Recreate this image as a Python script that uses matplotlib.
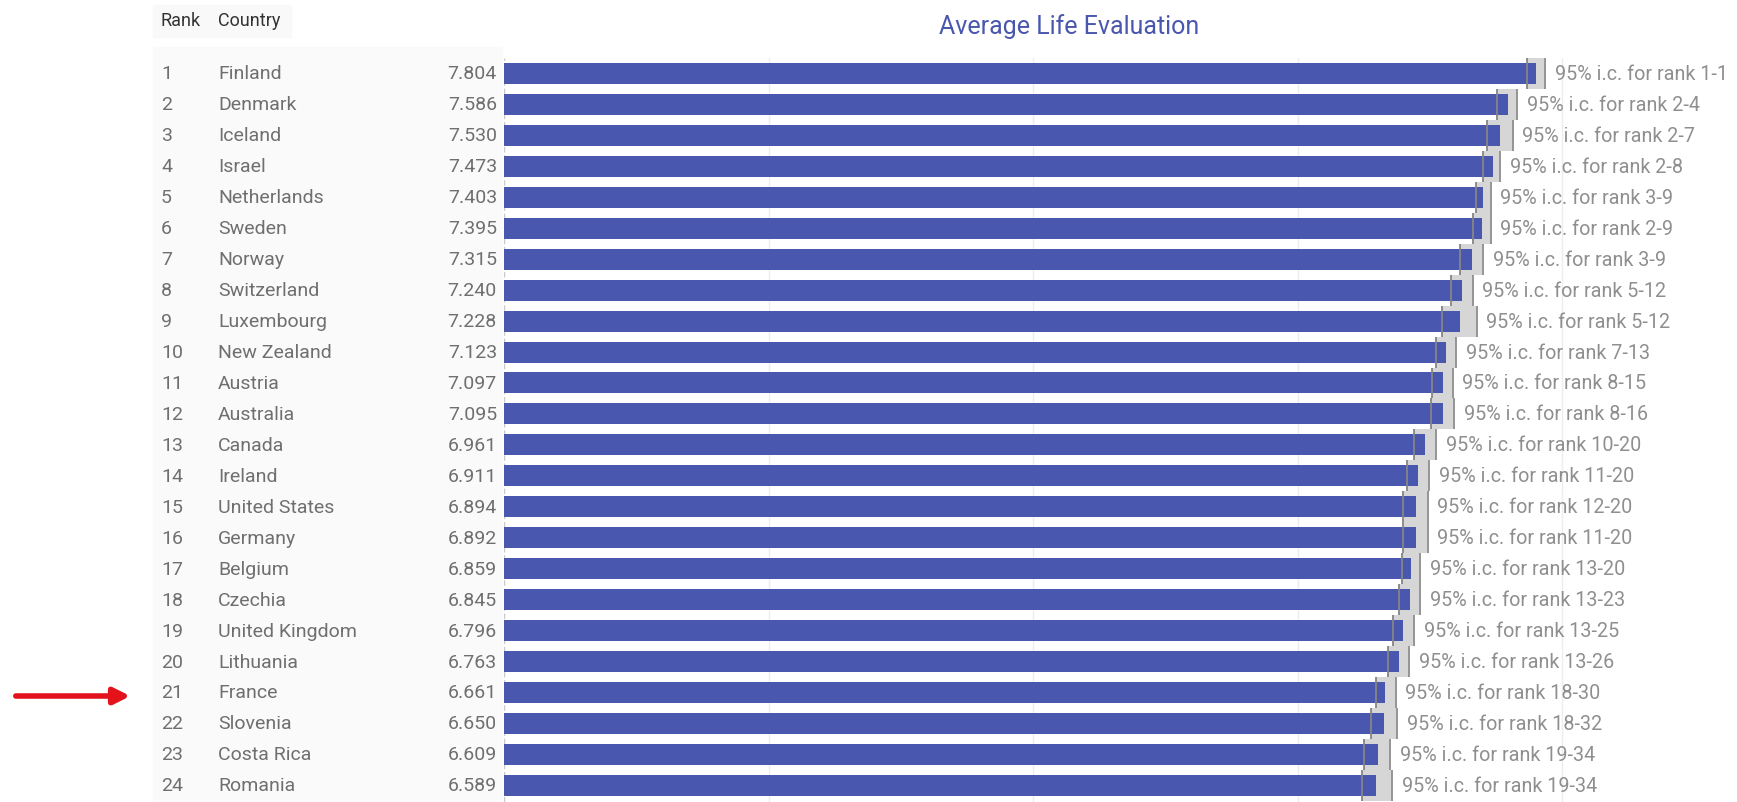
import matplotlib
matplotlib.use("Agg")
import matplotlib.pyplot as plt
import matplotlib.patches as mpatches
import matplotlib.transforms as mtransforms
import matplotlib.patheffects as pe

plt.rcParams['font.family'] = ['Roboto', 'DejaVu Sans']

# données
ranks = list(range(1, 25))
countries = ['Finland', 'Denmark', 'Iceland', 'Israel', 'Netherlands', 'Sweden',
             'Norway', 'Switzerland', 'Luxembourg', 'New Zealand', 'Austria',
             'Australia', 'Canada', 'Ireland', 'United States', 'Germany',
             'Belgium', 'Czechia', 'United Kingdom', 'Lithuania', 'France',
             'Slovenia', 'Costa Rica', 'Romania']
scores = [7.804, 7.586, 7.530, 7.473, 7.403, 7.395, 7.315, 7.240, 7.228, 7.123,
          7.097, 7.095, 6.961, 6.911, 6.894, 6.892, 6.859, 6.845, 6.796, 6.763,
          6.661, 6.650, 6.609, 6.589]
ci_low = [7.730, 7.508, 7.428, 7.402, 7.345, 7.322, 7.226, 7.158, 7.088, 7.045,
          7.017, 7.007, 6.878, 6.823, 6.797, 6.793, 6.788, 6.763, 6.717, 6.682,
          6.589, 6.553, 6.503, 6.483]
ci_high = [7.868, 7.659, 7.624, 7.528, 7.458, 7.458, 7.402, 7.322, 7.352, 7.196,
           7.171, 7.183, 7.045, 6.994, 6.982, 6.982, 6.924, 6.924, 6.878, 6.843,
           6.740, 6.752, 6.697, 6.714]
rank_lo = [1, 2, 2, 2, 3, 2, 3, 5, 5, 7, 8, 8, 10, 11, 12, 11, 13, 13, 13, 13,
           18, 18, 19, 19]
rank_hi = [1, 4, 7, 8, 9, 9, 9, 12, 12, 13, 15, 16, 20, 20, 20, 20, 20, 23, 25,
           26, 30, 32, 34, 34]

W, H = 1737, 803
fig = plt.figure(figsize=(W / 100, H / 100), dpi=100)
fig.patch.set_facecolor('white')

# fond gris tres clair du tableau a gauche
fig.patches.append(mpatches.Rectangle((153 / W, 0), (502 - 153) / W, (H - 48) / H,
                                      transform=fig.transFigure, color='#fafafa', zorder=-5))
fig.patches.append(mpatches.Rectangle((153 / W, (H - 38) / H), (291 - 153) / W, 32 / H,
                                      transform=fig.transFigure, color='#f9f9f9', zorder=-5))

top = 59
ax = fig.add_axes([504 / W, 0, (W - 504) / W, (H - top) / H])
ax.set_facecolor('none')
pitch = 30.95
ax.set_xlim(0, (W - 504) / 132.3)
ax.set_ylim(0.5 + (H - top) / pitch, 0.5)

# grille
for g in [2, 4, 6, 8]:
    ax.axvline(g, color='#ededed', lw=1, zorder=0)
ax.axvline(0, color='#c9c9c9', lw=1, ls=(0, (4, 2)), zorder=0)

# intervalles de confiance
widths = [h - l for l, h in zip(ci_low, ci_high)]
ax.barh(ranks, widths, left=ci_low, height=1.0, color='#d6d6d6', zorder=1)
ax.barh(ranks, scores, height=0.68, color='#4a57ae', zorder=2)
ax.vlines(ci_low, [r - 0.5 for r in ranks], [r + 0.5 for r in ranks],
          color='#858585', lw=1.3, zorder=3)
ax.vlines(ci_high, [r - 0.5 for r in ranks], [r + 0.5 for r in ranks],
          color='#8e8e8e', lw=1.3, zorder=3)

for r, h, lo, hi in zip(ranks, ci_high, rank_lo, rank_hi):
    ax.annotate(f'95% i.c. for rank {lo}-{hi}', xy=(h, r), xytext=(7, 0),
                textcoords='offset points', va='center', ha='left',
                fontsize=14.2, color='#8f8f8f', annotation_clip=False)

for s in ax.spines.values():
    s.set_visible(False)
ax.set_xticks([])
ax.set_yticks([])

# colonnes du tableau
tr = mtransforms.blended_transform_factory(fig.transFigure, ax.transData)
for r, c, s in zip(ranks, countries, scores):
    ax.text(161 / W, r, str(r), transform=tr, va='center', ha='left',
            fontsize=14, color='#6f6f6f', clip_on=False)
    ax.text(218 / W, r, c, transform=tr, va='center', ha='left',
            fontsize=14, color='#6f6f6f', clip_on=False)
    ax.text(497 / W, r, f'{s:.3f}', transform=tr, va='center', ha='right',
            fontsize=14, color='#6f6f6f', clip_on=False)

fig.text(161 / W, 1 - 21 / H, 'Rank', ha='left', va='center', fontsize=13, color='#333333')
fig.text(218 / W, 1 - 21 / H, 'Country', ha='left', va='center', fontsize=13, color='#333333')
fig.text(1069 / W, 1 - 27 / H, 'Average Life Evaluation', ha='center', va='center',
         fontsize=18, color='#4a57ae')

# fleche rouge
fig.add_artist(mpatches.FancyArrowPatch((13, H - 697), (133, H - 697),
                                        transform=None, arrowstyle='-|>',
                                        mutation_scale=24, lw=4, color='#e3121b',
                                        path_effects=[pe.SimplePatchShadow(offset=(1, -2), alpha=0.3),
                                                      pe.Normal()]))

fig.savefig('out.png', dpi=100)
